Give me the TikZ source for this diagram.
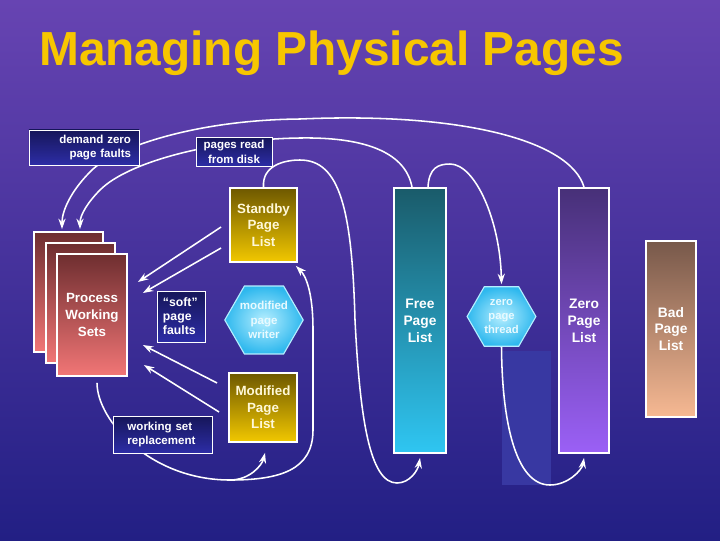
\documentclass[tikz,border=0pt]{standalone}
\usepackage{fontspec}
\setmainfont{Liberation Sans}
\usetikzlibrary{arrows.meta,shapes.geometric}
\definecolor{SkyTop}{HTML}{6744B2}
\definecolor{SkyMid}{HTML}{4A38A8}
\definecolor{SkyBot}{HTML}{221F84}
\definecolor{TitleGold}{HTML}{F7C600}
\definecolor{NavyTop}{HTML}{16165A}
\definecolor{NavyBot}{HTML}{2D2DA6}
\definecolor{GoldTop}{HTML}{6E5800}
\definecolor{GoldBot}{HTML}{F2C800}
\definecolor{PaleGold}{HTML}{FFF8D8}
\definecolor{RoseTop}{HTML}{6E2E30}
\definecolor{RoseBot}{HTML}{F27676}
\definecolor{FreeTop}{HTML}{1A5B6A}
\definecolor{FreeBot}{HTML}{2FC6F2}
\definecolor{ZeroTop}{HTML}{473078}
\definecolor{ZeroBot}{HTML}{9B60F6}
\definecolor{BadTop}{HTML}{77584A}
\definecolor{BadBot}{HTML}{F7B993}
\definecolor{HexIn}{HTML}{B5EEFF}
\definecolor{HexOut}{HTML}{2EB8EE}
\definecolor{HexText}{HTML}{E8FAFF}
\definecolor{Slab}{HTML}{3838A2}
\pgfdeclarelayer{back}
\pgfdeclarelayer{bg}
\pgfsetlayers{back,bg,main}
\tikzset{
  tag/.style={draw=white,line width=.6pt,top color=NavyTop,bottom color=NavyBot,text=white,inner sep=0pt,font=\fontsize{8.2}{10.5}\selectfont\bfseries},
  pagelist/.style={draw=white,line width=1.3pt,top color=GoldTop,bottom color=GoldBot,text=PaleGold,align=center,font=\fontsize{9.5}{11.7}\selectfont\bfseries},
  column/.style={draw=white,line width=1.3pt,text=white,align=center,minimum height=6.625cm,font=\fontsize{9.8}{12}\selectfont\bfseries},
  wset/.style={draw=white,line width=1.3pt,top color=RoseTop,bottom color=RoseBot,minimum width=1.725cm,minimum height=3cm},
  worker/.style={regular polygon,regular polygon sides=6,draw=HexIn,line width=.8pt,inner color=HexIn,outer color=HexOut,inner sep=0pt,align=center,text=HexText,font=\fontsize{8.2}{10.5}\selectfont\bfseries},
  flow/.style={-{Stealth[length=2.6mm,width=1.8mm]},draw=white,line width=1.1pt},
}
\begin{document}
\begin{tikzpicture}[x=0.025cm,y=-0.025cm]
  % backdrop
  \begin{pgfonlayer}{back}
    \shade[top color=SkyTop,middle color=SkyMid,bottom color=SkyBot] (0,0) rectangle (720,540);
  \end{pgfonlayer}
  \useasboundingbox (0,0) rectangle (720,540);

  \node[anchor=base west,text=TitleGold,font=\fontsize{34}{40}\selectfont\bfseries,inner sep=0pt] (title) at (39,65) {Managing Physical Pages};

  % working sets
  \node[wset] (pwsA) at (68.5,292) {};
  \node[wset] (pwsB) at (80.5,303) {};
  \node[wset,minimum width=1.75cm,minimum height=3.05cm,align=center,text=white,font=\fontsize{9.5}{12}\selectfont\bfseries] (pwsC) at (92,315) {Process\\Working\\Sets};

  % lists
  \node[pagelist,minimum width=1.675cm,minimum height=1.85cm] (standby) at (263.5,225) {Standby\\Page\\List};
  \node[pagelist,minimum width=1.7cm,minimum height=1.725cm] (modl) at (263,407.5) {Modified\\Page\\List};
  \node[column,top color=FreeTop,bottom color=FreeBot,minimum width=1.3cm] (freel) at (420,320.5) {Free\\Page\\List};
  \node[column,top color=ZeroTop,bottom color=ZeroBot,minimum width=1.25cm] (zerol) at (584,320.5) {Zero\\Page\\List};
  \node[column,top color=BadTop,bottom color=BadBot,minimum width=1.25cm,minimum height=4.4cm] (badl) at (671,329) {Bad\\Page\\List};

  % threads
  \node[worker,minimum size=1.95cm] (writer) at (264,320) {modified\\page\\writer};
  \node[worker,minimum size=1.72cm,font=\fontsize{8}{10}\selectfont\bfseries] (zthread) at (501.5,316.5) {zero\\page\\thread};

  % labels
  \node[tag,minimum width=2.75cm,minimum height=.875cm,text width=2.35cm,align=right] (demand) at (84,147.5) {demand zero\\page faults};
  \node[tag,minimum width=1.9cm,minimum height=.725cm,align=center] (readdisk) at (234,151.5) {pages read\\from disk};
  \node[tag,minimum width=1.2cm,minimum height=1.275cm,text width=.9cm,align=left,font=\fontsize{8.7}{10}\selectfont\bfseries] (soft) at (181,316.5) {``soft''\\page\\faults};
  \node[tag,minimum width=2.475cm,minimum height=.925cm,text width=1.75cm,align=left] (wsr) at (162.5,434.5) {working set\\replacement};

  \begin{pgfonlayer}{bg}
    \node[fill=Slab,minimum width=1.225cm,minimum height=3.35cm,inner sep=0pt] (slab) at (526.5,418) {};
    \coordinate (dip) at (230,480);

    \draw[flow] (zerol.north) .. controls (570,140) and (460,112) .. (300,119)
      .. controls (190,120) and (110,150) .. (90,172)
      .. controls (72,190) and (62,210) .. ([shift={(-6.5,-2)}]pwsA.north);
    \draw[flow] ([xshift=-.2cm]freel.north) .. controls (405,150) and (360,137) .. (300,138)
      .. controls (220,139) and (130,160) .. (100,190)
      .. controls (88,202) and (80,215) .. ([shift={(11.5,-2)}]pwsA.north);
    \draw[flow] (standby.north) .. controls (262,165) and (285,160) .. (300,160)
      .. controls (340,160) and (352,210) .. (355,320)
      .. controls (360,420) and (370,483) .. (397,483)
      .. controls (410,483) and (418,470) .. ([yshift=-.1cm]freel.south);
    \draw[flow] ([xshift=.2cm]freel.north) .. controls (429,168) and (438,164) .. (450,164)
      .. controls (475,164) and (500,220) .. ([yshift=.05cm]zthread.north);
    \draw[flow] (zthread.south) .. controls (502,420) and (515,485) .. (550,485)
      .. controls (568,485) and (582,470) .. ([yshift=-.1cm]zerol.south);

    \draw[flow] ([shift={(-8,2)}]standby.west) -- ([shift={(10,-33)}]pwsC.east);
    \draw[flow] ([shift={(-8,23)}]standby.west) -- ([shift={(15,-22)}]pwsC.east);
    \draw[flow] ([shift={(-11,-24.5)}]modl.west) -- ([shift={(15,30)}]pwsC.east);
    \draw[flow] ([shift={(-9,4.5)}]modl.west) -- ([shift={(16,50)}]pwsC.east);

    \draw[flow] ([shift={(5,6)}]pwsC.south) .. controls (97,420) and (150,480) .. (dip)
      .. controls (250,480) and (262,465) .. ([shift={(2,10)}]modl.south);
    \draw[flow] (dip) .. controls (280,480) and (313,470) .. (313,430) -- (313,330)
      .. controls (313,290) and (305,275) .. ([shift={(-2,3)}]standby.south east);
  \end{pgfonlayer}
\end{tikzpicture}
\end{document}
